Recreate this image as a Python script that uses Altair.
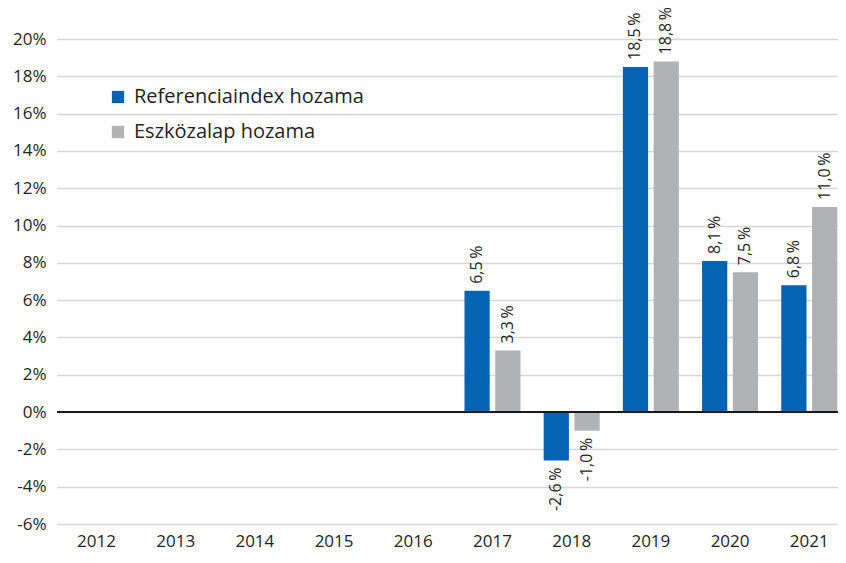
import altair as alt
import pandas as pd

years = ["2012", "2013", "2014", "2015", "2016", "2017", "2018", "2019", "2020", "2021"]
series = ["Referenciaindex hozama", "Eszközalap hozama"]
ref_years = ["2017", "2018", "2019", "2020", "2021"]
ref_values = [6.5, -2.6, 18.5, 8.1, 6.8]
fund_values = [3.3, -1.0, 18.8, 7.5, 11.0]
y_ticks = [-6, -4, -2, 0, 2, 4, 6, 8, 10, 12, 14, 16, 18, 20]

rows = []
for yv, v in zip(ref_years, ref_values):
    rows.append({"year": yv, "series": series[0], "value": v})
for yv, v in zip(ref_years, fund_values):
    rows.append({"year": yv, "series": series[1], "value": v})
df = pd.DataFrame(rows)
df["label"] = df["value"].map(lambda v: f"{v:.1f}".replace(".", ",") + "\u2009%")

FONT = "Open Sans"
TXT = "#231f20"

x = alt.X("year:N",
          scale=alt.Scale(domain=years, paddingInner=0.293, paddingOuter=0.077, align=0.94),
          axis=alt.Axis(title=None, labelAngle=0, ticks=False, domain=False, labelPadding=9,
                        labelFontSize=17, labelColor=TXT, labelFont=FONT, labelOverlap=False))
xo = alt.XOffset("series:N", sort=series, scale=alt.Scale(domain=series, paddingInner=0.18))
y = alt.Y("value:Q", scale=alt.Scale(domain=[-6, 20], nice=False),
          axis=alt.Axis(title=None, values=y_ticks, labelExpr="datum.value + '%'",
                        ticks=False, domain=False, grid=True, gridColor="#d6d6d6", gridWidth=1.5,
                        labelFontSize=17, labelColor=TXT, labelFont=FONT, labelPadding=11,
                        labelOverlap=False, labelFlush=False))

base = alt.Chart(df)

bars = base.mark_bar().encode(
    x=x, xOffset=xo, y=y,
    color=alt.Color("series:N", sort=series,
                    scale=alt.Scale(domain=series, range=["#0563b3", "#b1b2b5"]),
                    legend=alt.Legend(title=None, orient="none", legendX=51, legendY=48,
                                      symbolType="square", symbolSize=150, symbolStrokeWidth=0,
                                      labelFontSize=20, labelFont=FONT, labelColor=TXT,
                                      labelLimit=0, rowPadding=15, labelOffset=6)),
)

pos_labels = base.transform_filter("datum.value >= 0").mark_text(
    angle=270, align="left", baseline="middle", dx=7, fontSize=16, font=FONT, color=TXT
).encode(x=x, xOffset=xo, y=y, text="label:N")

neg_labels = base.transform_filter("datum.value < 0").mark_text(
    angle=270, align="right", baseline="middle", dx=-7, fontSize=16, font=FONT, color=TXT
).encode(x=x, xOffset=xo, y=y, text="label:N")

zero = alt.Chart(pd.DataFrame({"value": [0]})).mark_rule(color="#1a1a1a", strokeWidth=2).encode(
    y=y
)

chart = alt.layer(bars, zero, pos_labels, neg_labels).properties(
    width=781, height=485,
    autosize=alt.AutoSizeParams(type="none"),
    padding={"left": 49, "top": 31, "right": 0, "bottom": 30},
).configure_view(stroke=None)

chart.save("out.html", embed_options={"renderer": "svg", "actions": False})
